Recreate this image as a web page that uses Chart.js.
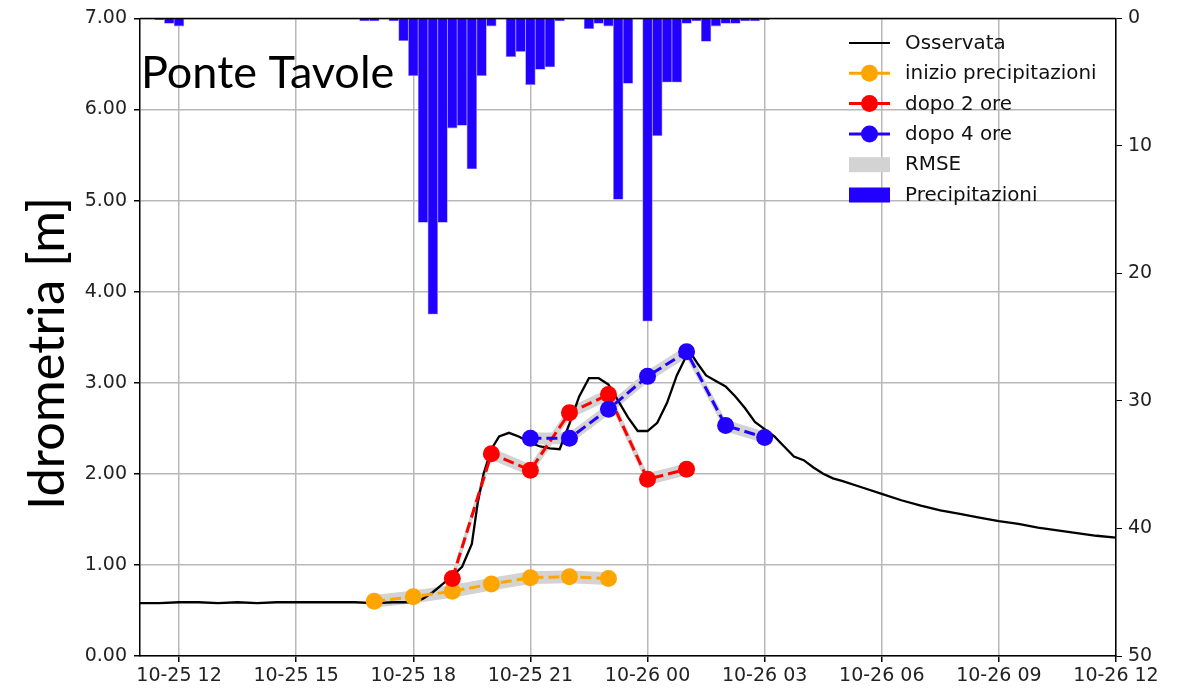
<!DOCTYPE html>
<html>
<head>
<meta charset="utf-8">
<title>Ponte Tavole</title>
<script src="https://cdn.jsdelivr.net/npm/chart.js@4.4.1/dist/chart.umd.min.js"></script>
<style>
  body { margin: 0; background: #fff; }
  #wrap { width: 1186px; height: 691px; position: relative; }
</style>
</head>
<body>
<div id="wrap"><canvas id="myChart"></canvas></div>
<script>
// ore contate dal 25/10 00:00 (24 = 26/10 00:00)
var xTicks = [12, 15, 18, 21, 24, 27, 30, 33, 36];

// idrometria osservata [m]
var obsOre = [11, 11.5, 12, 12.5, 13, 13.5, 14, 14.5, 15, 15.5, 16, 16.5, 17, 17.5, 18,
  18.25, 18.5, 18.75, 19, 19.25, 19.5, 19.65, 19.8, 20, 20.2, 20.45, 20.7, 21, 21.25, 21.5, 21.75,
  22, 22.25, 22.5, 22.75, 23, 23.25, 23.5, 23.75, 24, 24.25, 24.5, 24.75, 25, 25.1, 25.3, 25.5,
  25.75, 26, 26.25, 26.5, 26.75, 27, 27.25, 27.5, 27.75, 28, 28.25, 28.5, 28.75, 29, 29.5, 30,
  30.5, 31, 31.5, 32, 32.5, 33, 33.5, 34, 34.5, 35, 35.5, 36];
var obsLivello = [0.58, 0.58, 0.59, 0.59, 0.58, 0.59, 0.58, 0.59, 0.59, 0.59, 0.59, 0.59, 0.58, 0.59, 0.59,
  0.63, 0.70, 0.79, 0.88, 0.98, 1.23, 1.68, 2.00, 2.27, 2.41, 2.45, 2.41, 2.34, 2.30, 2.28, 2.27,
  2.55, 2.85, 3.05, 3.05, 2.98, 2.80, 2.62, 2.47, 2.47, 2.56, 2.78, 3.08, 3.30, 3.33, 3.20, 3.08,
  3.02, 2.96, 2.85, 2.72, 2.57, 2.49, 2.41, 2.30, 2.19, 2.15, 2.07, 2.00, 1.95, 1.92, 1.85, 1.78,
  1.71, 1.65, 1.60, 1.56, 1.52, 1.48, 1.45, 1.41, 1.38, 1.35, 1.32, 1.30];

// precipitazioni ogni 15 minuti [mm]
var precOre = [11.5, 11.75, 12, 16.75, 17, 17.5, 17.75, 18, 18.25, 18.5, 18.75, 19, 19.25, 19.5, 19.75,
  20, 20.5, 20.75, 21, 21.25, 21.5, 21.75, 22.5, 22.75, 23, 23.25, 23.5, 24, 24.25, 24.5, 24.75,
  25, 25.25, 25.5, 25.75, 26, 26.25, 26.5, 26.75, 27];
var precMm = [0.1, 0.4, 0.6, 0.2, 0.2, 0.2, 1.75, 4.5, 16.0, 23.2, 16.0, 8.6, 8.4, 11.8, 4.5,
  0.6, 3.0, 2.6, 5.2, 4.0, 3.8, 0.2, 0.8, 0.4, 0.6, 14.2, 5.1, 23.75, 9.2, 5.0, 5.0,
  0.4, 0.2, 1.8, 0.6, 0.4, 0.4, 0.2, 0.2, 0.1];

// previsioni
var inizioOre = [17, 18, 19, 20, 21, 22, 23];
var inizioLivello = [0.60, 0.65, 0.71, 0.79, 0.86, 0.87, 0.85];
var dopo2Ore = [19, 20, 21, 22, 23, 24, 25];
var dopo2Livello = [0.85, 2.22, 2.04, 2.67, 2.87, 1.94, 2.05];
var dopo4Ore = [21, 22, 23, 24, 25, 26, 27];
var dopo4Livello = [2.39, 2.39, 2.71, 3.07, 3.34, 2.53, 2.40];

// RMSE [m]
var rmseInizio = 0.07;
var rmseDopo2 = 0.065;
var rmseDopo4 = 0.065;

function punti(ore, valori, delta) {
  return ore.map(function(h, i) { return { x: h, y: valori[i] + (delta || 0) }; });
}

function etichettaOra(h) {
  var giorno = 25 + Math.floor(h / 24);
  var ora = h % 24;
  return '10-' + giorno + ' ' + (ora < 10 ? '0' : '') + ora;
}

var BLU = '#2200ff';
var GRIGIO = '#d3d3d3';

function banda(ore, valori, rmse, ordine) {
  return [{
    type: 'line', data: punti(ore, valori, rmse), yAxisID: 'y',
    borderWidth: 0, pointRadius: 0, fill: false, order: ordine
  }, {
    type: 'line', data: punti(ore, valori, -rmse), yAxisID: 'y',
    borderWidth: 0, pointRadius: 0, fill: '-1', backgroundColor: GRIGIO, order: ordine
  }];
}

function previsione(label, ore, valori, colore, ordine) {
  return {
    type: 'line', label: label, data: punti(ore, valori), yAxisID: 'y',
    borderColor: colore, borderWidth: 3, borderDash: [11, 5],
    pointRadius: 8.5, pointHoverRadius: 8.5, pointBackgroundColor: colore, pointBorderWidth: 0,
    fill: false, order: ordine
  };
}

function fontAdatto(ctx, testo, larghezza, famiglia) {
  ctx.font = '100px ' + famiglia;
  var w = ctx.measureText(testo).width;
  return (100 * larghezza / w).toFixed(1) + 'px ' + famiglia;
}

var decorazioni = {
  id: 'decorazioni',
  afterDraw: function(chart) {
    var ctx = chart.ctx, a = chart.chartArea;
    ctx.save();
    // bordo superiore
    ctx.strokeStyle = '#000';
    ctx.lineWidth = 1.5;
    ctx.beginPath();
    ctx.moveTo(a.left, a.top);
    ctx.lineTo(a.right, a.top);
    ctx.stroke();

    ctx.fillStyle = '#000';
    ctx.textAlign = 'left';
    ctx.textBaseline = 'alphabetic';
    ctx.font = fontAdatto(ctx, 'Ponte Tavole', 253, 'Lato');
    ctx.fillText('Ponte Tavole', a.left + 1, 88);

    ctx.save();
    ctx.translate(64, 510);
    ctx.rotate(-Math.PI / 2);
    ctx.font = fontAdatto(ctx, 'Idrometria [m]', 313, 'Lato');
    ctx.fillText('Idrometria [m]', 0, 0);
    ctx.restore();

    // legenda
    var voci = [
      { testo: 'Osservata', tipo: 'linea', colore: '#000' },
      { testo: 'inizio precipitazioni', tipo: 'punto', colore: 'orange' },
      { testo: 'dopo 2 ore', tipo: 'punto', colore: 'red' },
      { testo: 'dopo 4 ore', tipo: 'punto', colore: BLU },
      { testo: 'RMSE', tipo: 'box', colore: GRIGIO },
      { testo: 'Precipitazioni', tipo: 'box', colore: BLU }
    ];
    var x0 = 849, x1 = 890, y = 43;
    ctx.font = fontAdatto(ctx, 'inizio precipitazioni', 192, '"DejaVu Sans"');
    ctx.textBaseline = 'middle';
    voci.forEach(function(v) {
      if (v.tipo === 'box') {
        ctx.fillStyle = v.colore;
        ctx.fillRect(x0, y - 7, x1 - x0, 15);
      } else {
        ctx.strokeStyle = v.colore;
        ctx.lineWidth = v.tipo === 'linea' ? 2.2 : 3;
        ctx.beginPath();
        ctx.moveTo(x0, y);
        ctx.lineTo(x1, y);
        ctx.stroke();
        if (v.tipo === 'punto') {
          ctx.fillStyle = v.colore;
          ctx.beginPath();
          ctx.arc((x0 + x1) / 2, y, 8.5, 0, Math.PI * 2);
          ctx.fill();
        }
      }
      ctx.fillStyle = '#111';
      ctx.fillText(v.testo, 905, y + 1);
      y += 30.3;
    });
    ctx.restore();
  }
};

var fontTick = { family: '"DejaVu Sans"', size: 19 };

var datasets = [
  {
    type: 'line', label: 'Osservata', data: punti(obsOre, obsLivello), yAxisID: 'y',
    borderColor: '#000', borderWidth: 2.3, pointRadius: 0, fill: false, order: 4
  },
  previsione('inizio precipitazioni', inizioOre, inizioLivello, 'orange', 3),
  previsione('dopo 2 ore', dopo2Ore, dopo2Livello, 'red', 2),
  previsione('dopo 4 ore', dopo4Ore, dopo4Livello, BLU, 1)
].concat(
  banda(inizioOre, inizioLivello, rmseInizio, 7),
  banda(dopo2Ore, dopo2Livello, rmseDopo2, 6),
  banda(dopo4Ore, dopo4Livello, rmseDopo4, 5),
  [{
    type: 'bar', label: 'Precipitazioni', data: punti(precOre, precMm), yAxisID: 'y2',
    backgroundColor: BLU, borderColor: '#9a90ff', borderWidth: 0.8,
    barPercentage: 1, categoryPercentage: 1, order: 10
  }]
);

var ctx = document.getElementById('myChart').getContext('2d');
var chart = new Chart(ctx, {
  type: 'line',
  data: { datasets: datasets },
  options: {
    responsive: true,
    maintainAspectRatio: false,
    animation: false,
    events: [],
    layout: { padding: { top: 16, left: 0, right: 0, bottom: 0 } },
    plugins: { legend: { display: false }, tooltip: { enabled: false } },
    scales: {
      x: {
        type: 'linear', min: 11, max: 36, offset: false,
        grid: { color: '#b8b8b8', lineWidth: 1.5, tickColor: '#000', tickLength: 6, offset: false },
        border: { color: '#000', width: 1.5 },
        ticks: { font: fontTick, color: '#222', padding: 3, maxRotation: 0, autoSkip: false,
          callback: function(v) { return etichettaOra(v); } },
        afterBuildTicks: function(scale) {
          scale.ticks = xTicks.map(function(v) { return { value: v }; });
        },
        afterFit: function(scale) { scale.height = 35; }
      },
      y: {
        type: 'linear', position: 'left', min: 0, max: 7,
        grid: { color: '#b8b8b8', lineWidth: 1.5, tickColor: '#000', tickLength: 6 },
        border: { color: '#000', width: 1.5 },
        ticks: { stepSize: 1, font: fontTick, color: '#222', padding: 7,
          callback: function(v) { return v.toFixed(2); } },
        afterFit: function(scale) { scale.width = 140; }
      },
      y2: {
        type: 'linear', position: 'right', min: 0, max: 50, reverse: true,
        grid: { drawOnChartArea: false, tickColor: '#000', tickLength: 6 },
        border: { color: '#000', width: 1.5 },
        ticks: { stepSize: 10, font: fontTick, color: '#222', padding: 6 },
        afterFit: function(scale) { scale.width = 70; }
      }
    }
  },
  plugins: [decorazioni]
});
</script>
</body>
</html>
